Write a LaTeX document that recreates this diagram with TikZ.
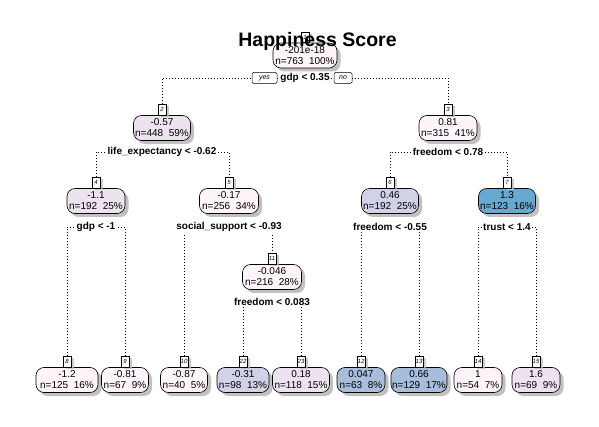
\documentclass[tikz,border=0pt]{standalone}
\usepackage{fontspec}
\setmainfont{Liberation Sans}
\usetikzlibrary{shadows}
\definecolor{cpale}{HTML}{FEF4FA}
\definecolor{clav}{HTML}{EDE3EF}
\definecolor{clblue}{HTML}{D1D2E7}
\definecolor{cmblue}{HTML}{A6BDDB}
\definecolor{cblue}{HTML}{67A9CF}
\tikzset{
  nodebox/.style={draw=black, line width=0.6pt, rounded corners=8pt, minimum height=25pt, inner sep=0.5pt,
    align=center, font=\fontsize{10}{11}\selectfont,
    drop shadow={shadow xshift=3.5pt, shadow yshift=-3.5pt, fill=black!30, opacity=0.8}},
  numbox/.style={draw=black, fill=white, line width=0.5pt, minimum width=8pt, minimum height=10.5pt, inner sep=0.3pt,
    font=\fontsize{6}{6}\selectfont\itshape, anchor=south,
    drop shadow={shadow xshift=3pt, shadow yshift=-2pt, fill=black!25, opacity=0.8}},
  splitlab/.style={fill=white, inner sep=1pt, font=\bfseries\fontsize{10}{11}\selectfont},
  yn/.style={draw=black, fill=white, rounded corners=1.5pt, line width=0.5pt, minimum width=25pt, minimum height=11pt, inner sep=0.5pt, font=\fontsize{7}{7}\selectfont\itshape},
  dotline/.style={line width=0.8pt, dash pattern=on 0.8pt off 2.2pt},
}
\newcommand{\treenode}[8]{%
  \node[nodebox, minimum width=#4, fill=#8] (#1) at (#2,#3) {#6\\n=#7};
  \node[numbox] (#1num) at (#1.north) {#5};
}
\begin{document}
\begin{tikzpicture}[x=1pt,y=-1pt]
\useasboundingbox[fill=white] (0,0) rectangle (599,427);
% split coordinates
\coordinate (s1) at (305,78);
\coordinate (s2) at (162,152);
\coordinate (s3) at (448,152);
\coordinate (s4) at (96,227);
\coordinate (s5) at (229,227);
\coordinate (s6) at (390,227);
\coordinate (s7) at (507,227);
\coordinate (s11) at (272,302);
% nodes
\treenode{n1}{305}{55.5}{64pt}{1}{-201e-18}{763\ \ 100\%}{cpale}
\treenode{n2}{162}{128}{57pt}{2}{-0.57}{448\ \ 59\%}{clav}
\treenode{n3}{448}{128}{58pt}{3}{0.81}{315\ \ 41\%}{cpale}
\treenode{n4}{96}{201}{58pt}{4}{-1.1}{192\ \ 25\%}{clav}
\treenode{n5}{229}{201}{59pt}{5}{-0.17}{256\ \ 34\%}{cpale}
\treenode{n6}{390}{201}{57pt}{6}{0.46}{192\ \ 25\%}{clblue}
\treenode{n7}{507}{201}{57pt}{7}{1.3}{123\ \ 16\%}{cblue}
\treenode{n11}{272}{277}{59pt}{11}{-0.046}{216\ \ 28\%}{cpale}
\treenode{n8}{67}{380}{62pt}{8}{-1.2}{125\ \ 16\%}{cpale}
\treenode{n9}{125}{380}{47pt}{9}{-0.81}{67\ \ 9\%}{cpale}
\treenode{n10}{184}{380}{47pt}{10}{-0.87}{40\ \ 5\%}{cpale}
\treenode{n22}{243}{380}{52pt}{22}{-0.31}{98\ \ 13\%}{clblue}
\treenode{n23}{301}{380}{57pt}{23}{0.18}{118\ \ 15\%}{clav}
\treenode{n12}{361}{380}{48pt}{12}{0.047}{63\ \ 8\%}{cmblue}
\treenode{n13}{419}{380}{56pt}{13}{0.66}{129\ \ 17\%}{cmblue}
\treenode{n14}{478}{380}{48pt}{14}{1}{54\ \ 7\%}{cpale}
\treenode{n15}{536}{380}{48pt}{15}{1.6}{69\ \ 9\%}{clav}
% branches
\draw[dotline] (n2num.north) -- (n2num.north |- s1) -- (n3num.north |- s1) -- (n3num.north);
\draw[dotline] (n4num.north) -- (n4num.north |- s2) -- (n5num.north |- s2) -- (n5num.north);
\draw[dotline] (n6num.north) -- (n6num.north |- s3) -- (n7num.north |- s3) -- (n7num.north);
\draw[dotline] (n8num.north) -- (n8num.north |- s4) -- (n9num.north |- s4) -- (n9num.north);
\draw[dotline] (n10num.north) -- (n10num.north |- s5) -- (n11num.north |- s5) -- (n11num.north);
\draw[dotline] (n12num.north) -- (n12num.north |- s6) -- (n13num.north |- s6) -- (n13num.north);
\draw[dotline] (n14num.north) -- (n14num.north |- s7) -- (n15num.north |- s7) -- (n15num.north);
\draw[dotline] (n22num.north) -- (n22num.north |- s11) -- (n23num.north |- s11) -- (n23num.north);
% split labels
\node[splitlab] (l1) at (s1) {gdp < 0.35};
\node[yn] (yes) at (264.5,78) {yes};
\node[yn, minimum width=18pt] (no) at (343,78) {no};
\node[splitlab] (l2) at (s2) {life\_expectancy < -0.62};
\node[splitlab] (l3) at (s3) {freedom < 0.78};
\node[splitlab] (l4) at (s4) {gdp < -1};
\node[splitlab] (l5) at (s5) {social\_support < -0.93};
\node[splitlab] (l6) at (s6) {freedom < -0.55};
\node[splitlab] (l7) at (s7) {trust < 1.4};
\node[splitlab] (l11) at (s11) {freedom < 0.083};
% title
\node[font=\bfseries\fontsize{19.5}{20}\selectfont, anchor=base, inner sep=0pt] (title) at (317.5,47) {Happiness Score};
\end{tikzpicture}
\end{document}
